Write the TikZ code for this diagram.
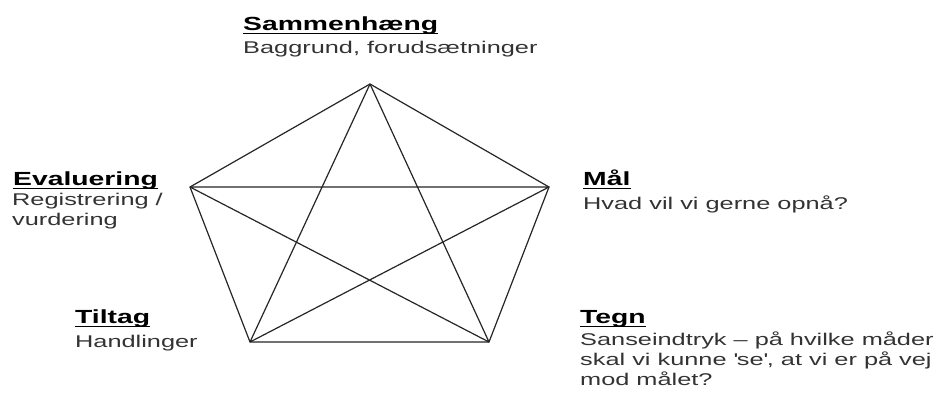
\documentclass[tikz,border=0pt]{standalone}
\usepackage{fontspec}
\setmainfont{Liberation Sans}[FakeStretch=1.49]
\begin{document}
\begin{tikzpicture}[x=1pt,y=-1pt,
  edge/.style={draw=black!85, line width=1.2pt},
  ttl/.style={anchor=base west, inner sep=0pt, font=\fontsize{19}{20}\selectfont\bfseries, text=black},
  sub/.style={anchor=base west, inner sep=0pt, align=left, font=\fontsize{17}{20}\selectfont, text=black!80},
  uline/.style={draw=black, line width=1.5pt}]
\useasboundingbox (0,0) rectangle (941,392);
\fill[white] (0,0) rectangle (941,392);
% vertices
\coordinate (T) at (370,84);
\coordinate (L) at (190,187);
\coordinate (R) at (549,187);
\coordinate (BL) at (250,342);
\coordinate (BR) at (489,342);
% pentagon and star
\draw[edge] (T) -- (R) -- (BR) -- (BL) -- (L) -- cycle;
\draw[edge] (T) -- (BL) (T) -- (BR) (L) -- (R) (L) -- (BR) (R) -- (BL);
% labels (sub nodes anchored at the baseline of their last line)
\node[ttl] (t1) at (243,30) {Sammenhæng};
\node[sub] (s1) at (243,53) {Baggrund, forudsætninger};
\node[ttl] (t2) at (13,185) {Evaluering};
\node[sub] (s2) at (12,225) {Registrering /\\vurdering};
\node[ttl] (t3) at (583,185) {Mål};
\node[sub] (s3) at (583,209) {Hvad vil vi gerne opnå?};
\node[ttl] (t4) at (75,323) {Tiltag};
\node[sub] (s4) at (75,347) {Handlinger};
\node[ttl] (t5) at (580,323) {Tegn};
\node[sub] (s5) at (580,385) {Sanseindtryk – på hvilke måder\\skal vi kunne \textquotesingle se\textquotesingle, at vi er på vej\\mod målet?};
% underlines
\foreach \n in {t1,t2,t3,t4,t5}
  \draw[uline] ([yshift=-3.5pt]\n.base west) -- ([yshift=-3.5pt]\n.base east);
\end{tikzpicture}
\end{document}
